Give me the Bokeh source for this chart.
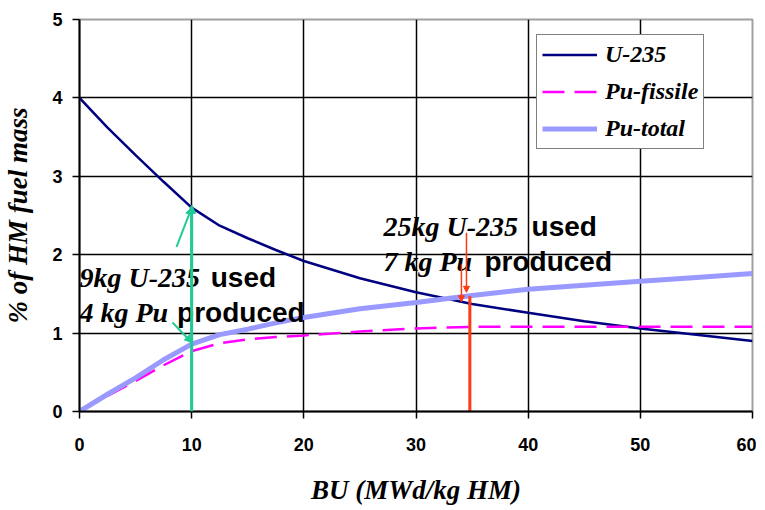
from bokeh.plotting import figure
from bokeh.models import Range1d, FixedTicker, Legend, LegendItem, Arrow, NormalHead
from bokeh.core.properties import value
from bokeh.embed import file_html
from bokeh.resources import INLINE

# ---- data ----
bu = [0, 2.5, 5, 7.5, 10, 12.5, 15, 17.5, 20, 25, 30, 35, 40, 45, 50, 55, 60]
u235 = [4.00, 3.62, 3.27, 2.93, 2.60, 2.37, 2.21, 2.06, 1.92, 1.70, 1.52, 1.37, 1.26, 1.15, 1.06, 0.98, 0.90]
pu_fissile = [0.00, 0.20, 0.39, 0.59, 0.77, 0.87, 0.92, 0.95, 0.97, 1.02, 1.06, 1.08, 1.08, 1.08, 1.08, 1.08, 1.08]
pu_total = [0.00, 0.22, 0.43, 0.66, 0.86, 0.98, 1.05, 1.13, 1.20, 1.31, 1.39, 1.48, 1.56, 1.61, 1.66, 1.71, 1.76]

x_ticks = [0, 10, 20, 30, 40, 50, 60]
y_ticks = [0, 1, 2, 3, 4, 5]

series_names = ["U-235", "Pu-fissile", "Pu-total"]
x_title = "BU (MWd/kg HM)"
y_title = "% of HM fuel mass"

serif = "Liberation Serif"
sans = "Liberation Sans"

p = figure(frame_width=673, frame_height=392, output_backend="svg", toolbar_location=None,
           x_range=Range1d(0, 60), y_range=Range1d(0, 5),
           min_border_left=72, min_border_right=4, min_border_top=19, min_border_bottom=60)
p.background_fill_color = "white"
p.border_fill_color = "white"
p.outline_line_color = "#a0a0a0"
p.outline_line_width = 2

# grid
p.xgrid.ticker = FixedTicker(ticks=[10, 20, 30, 40, 50])
p.ygrid.ticker = FixedTicker(ticks=[1, 2, 3, 4])
for g in (p.xgrid, p.ygrid):
    g.grid_line_color = "black"
    g.grid_line_width = 1.5
    g.grid_line_alpha = 1.0

# axes
for ax in (p.xaxis, p.yaxis):
    ax.axis_line_color = "black"
    ax.axis_line_width = 2
    ax.major_tick_line_color = "black"
    ax.major_tick_line_width = 1.5
    ax.major_tick_out = 7
    ax.major_tick_in = 0
    ax.minor_tick_line_color = None
    ax.major_label_text_font = sans
    ax.major_label_text_font_style = "bold"
    ax.major_label_text_font_size = "18px"
    ax.major_label_text_color = "black"
    ax.axis_label_text_font = serif
    ax.axis_label_text_font_style = "bold italic"
    ax.axis_label_text_font_size = "27px"
    ax.axis_label_text_color = "black"
p.xaxis.ticker = FixedTicker(ticks=x_ticks)
p.yaxis.ticker = FixedTicker(ticks=y_ticks)
p.xaxis.major_label_standoff = 19
p.yaxis.major_label_standoff = 10
p.xaxis.axis_label = x_title
p.yaxis.axis_label = y_title
p.xaxis.axis_label_standoff = 21
p.yaxis.axis_label_standoff = 16

# series
r_u = p.line(bu, u235, line_color="#000080", line_width=2.5)
r_f = p.line(bu, pu_fissile, line_color="#FF00FF", line_width=2.5, line_dash="22 10")
r_t = p.line(bu, pu_total, line_color="#9999FF", line_width=5)

# annotation arrows
green = "#1FCB95"
red = "#FF3A12"
p.add_layout(Arrow(x_start=10, y_start=0, x_end=10, y_end=2.63, line_color=green, line_width=3,
                   end=NormalHead(size=8, fill_color=green, line_color=green)))
p.add_layout(Arrow(x_start=8.65, y_start=2.10, x_end=10.0, y_end=2.60, line_color=green, line_width=2,
                   end=NormalHead(size=7, fill_color=green, line_color=green)))
p.add_layout(Arrow(x_start=8.29, y_start=1.135, x_end=10.0, y_end=0.88, line_color=green, line_width=2,
                   end=NormalHead(size=7, fill_color=green, line_color=green)))
p.segment(x0=[34.8], y0=[0], x1=[34.8], y1=[1.47], line_color=red, line_width=3)
p.add_layout(Arrow(x_start=34.5, y_start=2.28, x_end=34.5, y_end=1.52, line_color=red, line_width=1.5,
                   end=NormalHead(size=6, fill_color=red, line_color=red)))
p.add_layout(Arrow(x_start=34.05, y_start=1.875, x_end=34.05, y_end=1.40, line_color=red, line_width=1.5,
                   end=NormalHead(size=6, fill_color=red, line_color=red)))

# annotation texts (italic serif + bold sans parts)
def txt(x, y, s, font, style):
    p.text(x=[x], y=[y], text=[s], text_font=value(font), text_font_style=style,
           text_font_size="28px", text_color="black", text_baseline="alphabetic", text_align="left")

txt(0.0, 1.71, "9kg U-235", serif, "bold italic")
txt(11.7, 1.71, "used", sans, "bold")
txt(0.0, 1.26, "4 kg Pu", serif, "bold italic")
txt(8.7, 1.26, "produced", sans, "bold")
txt(27.1, 2.36, "25kg U-235", serif, "bold italic")
txt(40.3, 2.36, "used", sans, "bold")
txt(27.1, 1.91, "7 kg Pu", serif, "bold italic")
txt(36.1, 1.91, "produced", sans, "bold")

# legend
legend = Legend(items=[LegendItem(label=series_names[0], renderers=[r_u]),
                       LegendItem(label=series_names[1], renderers=[r_f]),
                       LegendItem(label=series_names[2], renderers=[r_t])],
                location=(457, 262))
legend.label_text_font = serif
legend.label_text_font_style = "bold italic"
legend.label_text_font_size = "24px"
legend.label_text_color = "black"
legend.glyph_width = 55
legend.label_standoff = 8
legend.label_height = 29
legend.glyph_height = 29
legend.spacing = 8
legend.padding = 5
legend.margin = 0
legend.border_line_color = "black"
legend.border_line_width = 1.5
legend.background_fill_color = "white"
legend.background_fill_alpha = 1.0
p.add_layout(legend)

open("out.html", "w").write(file_html(p, INLINE))
